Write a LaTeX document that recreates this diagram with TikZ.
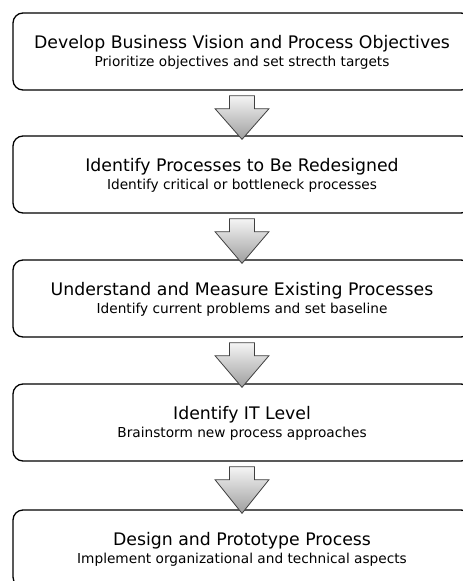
\documentclass[tikz,border=0pt]{standalone}
\usepackage{fontspec}
\setmainfont{DejaVu Sans}
\usetikzlibrary{calc}
\tikzset{
  stepbox/.style={draw=black, line width=1.3pt, rounded corners=10pt, fill=white,
    minimum width=458pt, minimum height=77pt, inner sep=0pt},
  bigarrow/.style={draw=black!75, line width=0.8pt, line join=miter,
    top color=black!4, bottom color=black!38},
  titletext/.style={anchor=base, inner sep=0pt, font=\fontsize{17.3}{20}\selectfont},
  subtext/.style={anchor=base, inner sep=0pt, font=\fontsize{13.7}{16}\selectfont}
}
\begin{document}
\begin{tikzpicture}[x=1pt,y=1pt]
\useasboundingbox (0,0) rectangle (463,-581);
\clip (0,0) rectangle (463,-581);
\fill[white] (0,0) rectangle (463,-581);
\node[stepbox] (b1) at (242,-51.5) {};
\node[stepbox] (b2) at (242,-174.5) {};
\node[stepbox] (b3) at (242,-298.5) {};
\node[stepbox] (b4) at (242,-422.5) {};
\node[stepbox] (b5) at (242,-548.5) {};
\foreach \b/\t/\s in {
  b1/{Develop Business Vision and Process Objectives}/{Prioritize objectives and set strecth targets},
  b2/{Identify Processes to Be Redesigned}/{Identify critical or bottleneck processes},
  b3/{Understand and Measure Existing Processes}/{Identify current problems and set baseline},
  b4/{Identify IT Level}/{Brainstorm new process approaches},
  b5/{Design and Prototype Process}/{Implement organizational and technical aspects}}{
  \node[titletext] (\b t) at ($(\b.center)+(0,3)$) {\t};
  \node[subtext] (\b s) at ($(\b.center)+(0,-14.5)$) {\s};
}
\foreach \a/\b in {b1/b2,b2/b3,b3/b4,b4/b5}{
  \path[bigarrow]
    ($(\a.south)+(-12.5,-5)$) -- ($(\a.south)+(12.5,-5)$) --
    ($(\a.south)+(12.5,-18)$) -- ($(\a.south)+(27,-18)$) --
    ($(\b.north)+(0,-4)$) --
    ($(\a.south)+(-27,-18)$) -- ($(\a.south)+(-12.5,-18)$) -- cycle;
}
\end{tikzpicture}
\end{document}
